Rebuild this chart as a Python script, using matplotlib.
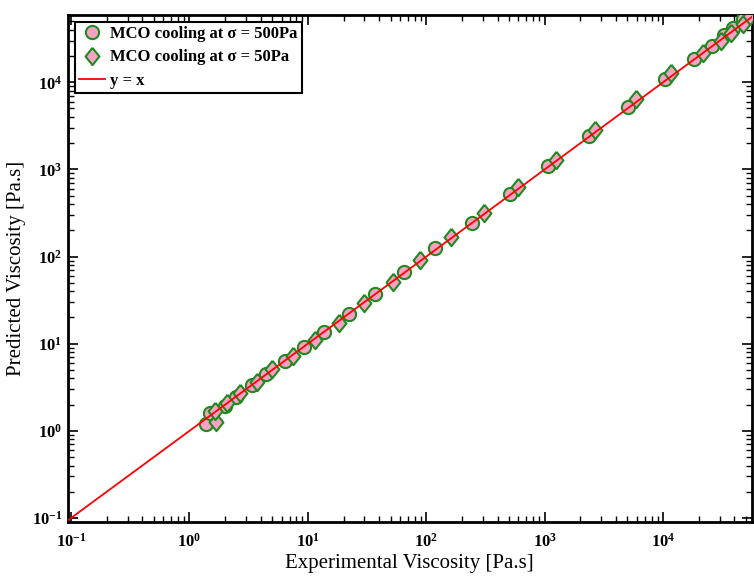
import numpy as np
import matplotlib.pyplot as plt
from matplotlib.ticker import LogLocator, NullFormatter

# MCO cooling at sigma = 500Pa
x_500 = [1.37, 1.48, 1.98, 2.45, 3.35, 4.41, 6.38, 9.25, 13.7, 22.3, 37, 65, 119, 245,
         505, 1060, 2360, 5050, 10400, 18300, 26000, 32900, 39200, 47600]
y_500 = [1.20, 1.61, 1.93, 2.45, 3.36, 4.50, 6.34, 9.16, 13.6, 21.9, 37, 66, 125, 241,
         518, 1085, 2390, 5140, 10800, 18700, 26300, 34400, 42400, 53700]

# MCO cooling at sigma = 50Pa
x_50 = [1.66, 1.63, 2.06, 2.65, 3.70, 4.95, 7.46, 11.5, 18.3, 29.8, 52.5, 89, 163, 310,
        600, 1240, 2650, 5900, 11700, 21800, 31000, 37700, 47600, 54600]
y_50 = [1.28, 1.69, 2.09, 2.72, 3.64, 5.13, 7.23, 11.0, 17.3, 29.3, 50.9, 91, 167, 314,
        623, 1270, 2800, 6350, 12900, 21400, 30100, 37200, 47200, 58200]

x_min, x_max = 0.094, 5.6e4
y_min, y_max = 0.09, 5.9e4

# diamond a bit wider than matplotlib's 'd'
diamond = [(0, 1), (0.8, 0), (0, -1), (-0.8, 0), (0, 1)]

fig = plt.figure(figsize=(7.54, 5.8), dpi=100)
ax = fig.add_axes([0.090, 0.100, 0.907, 0.874])

line_x = np.logspace(np.log10(0.08), np.log10(7e4), 200)

ax.plot(x_500, y_500, 'o', ms=9.5, mfc='#f4a3c4', mec='#1f8a1f', mew=1.5,
        label='MCO cooling at σ = 500Pa', zorder=3)
ax.plot(x_50, y_50, marker=diamond, ls='none', ms=12.5, mfc='#f4a3c4', mec='#1f8a1f', mew=1.5,
        label='MCO cooling at σ = 50Pa', zorder=3)
ax.plot(line_x, line_x, '-', color='red', lw=1.3, label='y = x', zorder=4)

ax.set_xscale('log')
ax.set_yscale('log')
ax.set_xlim(x_min, x_max)
ax.set_ylim(y_min, y_max)

for axis in (ax.xaxis, ax.yaxis):
    axis.set_major_locator(LogLocator(base=10, numticks=12))
    axis.set_minor_locator(LogLocator(base=10, subs=np.arange(2, 10), numticks=12))
    axis.set_minor_formatter(NullFormatter())

ax.tick_params(which='both', direction='in', top=True, right=True)
ax.tick_params(which='major', length=7, width=1.2, labelsize=12)
ax.tick_params(axis='x', which='major', pad=8)
ax.tick_params(axis='y', which='major', pad=4)
ax.tick_params(which='minor', length=4, width=1.0)
for lab in ax.get_xticklabels() + ax.get_yticklabels():
    lab.set_fontfamily('Liberation Serif')
    lab.set_fontweight('bold')

for sp in ax.spines.values():
    sp.set_linewidth(2)

ax.set_xlabel('Experimental Viscosity [Pa.s]', fontsize=15, family='Liberation Serif', labelpad=2)
ax.set_ylabel('Predicted Viscosity [Pa.s]', fontsize=15, family='Liberation Serif', labelpad=4)

leg = ax.legend(loc='upper left', prop={'family': 'Liberation Serif', 'weight': 'bold', 'size': 12},
                fancybox=False, edgecolor='black', framealpha=1, borderaxespad=0.4,
                handlelength=1.6, handletextpad=0.3, borderpad=0.25, labelspacing=0.45)
leg.get_frame().set_linewidth(1.5)

fig.savefig('out.png', dpi=100)
